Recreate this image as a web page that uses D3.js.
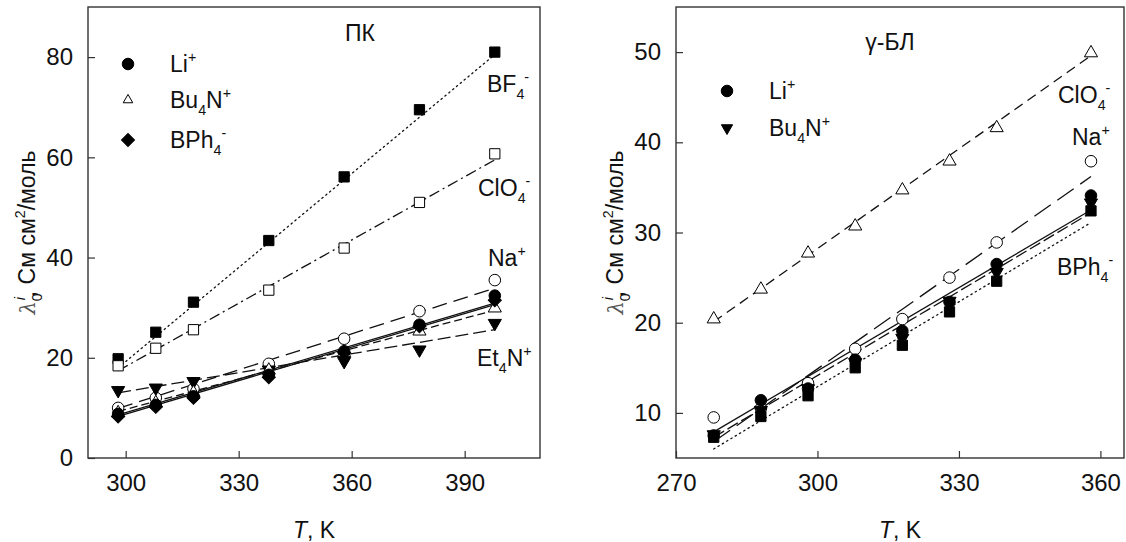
<!DOCTYPE html>
<html>
<head>
<meta charset="utf-8">
<script src="https://cdn.jsdelivr.net/npm/d3@7"></script>
<style>
  body { margin: 0; background: #fff; }
  text { font-family: "Liberation Sans", Arial, sans-serif; fill: #111; }
</style>
</head>
<body>
<div id="graph"></div>
<script>
// temperatures, K
const tPC = [298, 308, 318, 338, 358, 378, 398];
const tBL = [278, 288, 298, 308, 318, 328, 338, 358];

// ПК (propylene carbonate), λ0 in См см2/моль
const pcBF4 = [19.8, 25.1, 31.1, 43.4, 56.1, 69.5, 81.0];
const pcClO4 = [18.4, 21.9, 25.6, 33.5, 41.9, 51.0, 60.7];
const pcNa = [10.0, 12.0, 13.8, 18.8, 23.8, 29.3, 35.5];
const pcLi = [8.8, 10.6, 12.3, 16.6, 21.3, 26.6, 32.4];
const pcBu4N = [9.0, 11.0, 13.0, 17.5, 21.0, 25.3, 29.9];
const pcBPh4 = [8.3, 10.2, 12.0, 16.1, 21.0, 26.3, 31.5];
const pcEt4N = [13.5, 14.0, 15.3, 17.6, 19.3, 21.6, 26.9];

// fitted lines, value at first and last temperature
const pcFitBF4 = [18.0, 80.5];
const pcFitClO4 = [17.4, 59.5];
const pcFitNa = [9.9, 33.9];
const pcFitLi = [8.6, 30.9];
const pcFitBu4N = [9.3, 29.5];
const pcFitBPh4 = [8.3, 30.6];
const pcFitEt4N = [13.0, 25.6];

// γ-БЛ (gamma-butyrolactone)
const blClO4 = [20.4, 23.7, 27.7, 30.7, 34.7, 37.9, 41.6, 49.9];
const blNa = [9.5, 10.5, 13.3, 17.1, 20.4, 25.0, 28.9, 37.9];
const blLi = [7.5, 11.4, 12.7, 15.9, 19.1, 22.3, 26.5, 34.1];
const blBu4N = [7.6, 10.3, 12.7, 15.6, 18.3, 22.4, 25.6, 33.3];
const blBPh4 = [7.3, 9.6, 11.9, 15.0, 17.5, 21.2, 24.6, 32.4];

const blFitClO4 = [20.1, 49.6];
const blFitNa = [6.8, 36.2];
const blFitLi = [7.9, 32.5];
const blFitBu4N = [7.3, 32.2];
const blFitBPh4 = [6.0, 31.1];

const pcXTicks = [300, 330, 360, 390];
const pcYTicks = [0, 20, 40, 60, 80];
const blXTicks = [270, 300, 330, 360];
const blYTicks = [10, 20, 30, 40, 50];

const width = 1126, height = 542;

const svg = d3.select("#graph")
    .append("svg")
    .attr("width", width)
    .attr("height", height);

// marker shapes
const sym = {
    circle: {type: d3.symbolCircle, size: 105, rot: 0},
    square: {type: d3.symbolSquare, size: 105, rot: 0},
    triUp: {type: d3.symbolTriangle, size: 75, rot: 0},
    triDown: {type: d3.symbolTriangle, size: 75, rot: 180},
    diamond: {type: d3.symbolSquare, size: 85, rot: 45}
};

// text with sub/superscripts: parts = [[text, kind]]
function richText(g, x, y, parts, size, anchor) {
    const t = g.append("text")
        .attr("x", x).attr("y", y)
        .attr("font-size", size)
        .attr("text-anchor", anchor || "start");
    let off = 0;
    parts.forEach(function (p) {
        const kind = p[1] || "";
        let target = 0;
        if (kind.indexOf("sub") >= 0) target = size * 0.32;
        if (kind.indexOf("sup") >= 0) target = -size * 0.42;
        const s = t.append("tspan").attr("dy", target - off).text(p[0]);
        if (target !== 0) s.attr("font-size", size * 0.62);
        if (kind.indexOf("it") >= 0) s.attr("font-style", "italic");
        if (p[2]) s.attr("dx", p[2]);
        off = target;
    });
    return t;
}

function panel(opt) {
    const x = d3.scaleLinear().domain(opt.xDomain).range([opt.left, opt.right]);
    const y = d3.scaleLinear().domain(opt.yDomain).range([opt.bottom, opt.top]);
    const g = svg.append("g");

    // x axis
    g.append("g")
        .attr("transform", "translate(0," + opt.bottom + ")")
        .call(d3.axisBottom(x).tickValues(opt.xTicks).tickSize(-7).tickSizeOuter(0).tickPadding(16))
        .call(function (a) {
            a.select(".domain").remove();
            a.selectAll("line").attr("stroke", "#333").attr("stroke-width", 1.2);
            a.selectAll("text").attr("font-size", 24).attr("fill", "#111")
                .attr("font-family", "Liberation Sans, Arial, sans-serif");
        });

    // y axis
    g.append("g")
        .attr("transform", "translate(" + opt.left + ",0)")
        .call(d3.axisLeft(y).tickValues(opt.yTicks).tickSize(-7).tickSizeOuter(0).tickPadding(15))
        .call(function (a) {
            a.select(".domain").remove();
            a.selectAll("line").attr("stroke", "#333").attr("stroke-width", 1.2);
            a.selectAll("text").attr("font-size", 24).attr("fill", "#111")
                .attr("font-family", "Liberation Sans, Arial, sans-serif");
        });

    // frame
    g.append("rect")
        .attr("x", opt.left).attr("y", opt.top)
        .attr("width", opt.right - opt.left)
        .attr("height", opt.bottom - opt.top)
        .attr("fill", "none")
        .attr("stroke", "#333")
        .attr("stroke-width", 1.4);

    // fit lines
    const line = d3.line().x(function (d) { return x(d[0]); }).y(function (d) { return y(d[1]); });
    opt.series.forEach(function (s) {
        const t = opt.t;
        g.append("path")
            .datum([[t[0], s.fit[0]], [t[t.length - 1], s.fit[1]]])
            .attr("d", line)
            .attr("fill", "none")
            .attr("stroke", "#111")
            .attr("stroke-width", 1.3)
            .attr("stroke-linecap", s.dash === "1.4,3.6" ? "round" : "butt")
            .attr("stroke-dasharray", s.dash);
    });

    // markers
    opt.series.forEach(function (s) {
        const m = sym[s.marker];
        g.selectAll(null)
            .data(s.values.map(function (v, i) { return [opt.t[i], v]; }))
            .enter().append("path")
            .attr("d", d3.symbol().type(m.type).size(m.size))
            .attr("transform", function (d) {
                return "translate(" + x(d[0]) + "," + y(d[1]) + ") rotate(" + m.rot + ")";
            })
            .attr("fill", s.open ? "#fff" : "#000")
            .attr("stroke", "#000")
            .attr("stroke-width", 1);
    });

    // legend
    opt.legend.forEach(function (l) {
        const m = sym[l.marker];
        g.append("path")
            .attr("d", d3.symbol().type(m.type).size(l.size || m.size))
            .attr("transform", "translate(" + opt.legX + "," + l.y + ") rotate(" + m.rot + ")")
            .attr("fill", l.open ? "#fff" : "#000")
            .attr("stroke", "#000");
        richText(g, opt.legX + 42, l.y + 8, l.parts, 23);
    });

    // annotations
    opt.notes.forEach(function (n) {
        richText(g, n.x, n.y, n.parts, 23, n.anchor);
    });

    // y axis title
    const yt = richText(g, 0, 0, [
        ["λ", "it"], ["0", "sub"], ["i", "supit", -7], [", См см", ""], ["2", "sup"], ["/моль", ""]
    ], 23, "middle");
    yt.attr("transform", "translate(" + opt.yTitleX + "," + ((opt.top + opt.bottom) / 2) + ") rotate(-90)");
    yt.select("tspan").attr("fill", "#555").attr("font-family", "DejaVu Serif, serif").attr("font-size", 21);

    // x axis title
    richText(g, (opt.left + opt.right) / 2, 538, [["T", "it"], [", K", ""]], 23, "middle");
}

panel({
    xDomain: [290, 410], yDomain: [0, 90],
    left: 88, right: 540, top: 7, bottom: 458,
    xTicks: pcXTicks, yTicks: pcYTicks,
    t: tPC,
    yTitleX: 35,
    series: [
        {values: pcBF4, fit: pcFitBF4, marker: "square", open: false, dash: "1.4,3.6"},
        {values: pcClO4, fit: pcFitClO4, marker: "square", open: true, dash: "11,4,2,4"},
        {values: pcNa, fit: pcFitNa, marker: "circle", open: true, dash: "15,7"},
        {values: pcEt4N, fit: pcFitEt4N, marker: "triDown", open: false, dash: "13,5"},
        {values: pcBu4N, fit: pcFitBu4N, marker: "triUp", open: true, dash: "8,4"},
        {values: pcBPh4, fit: pcFitBPh4, marker: "diamond", open: false, dash: null},
        {values: pcLi, fit: pcFitLi, marker: "circle", open: false, dash: null}
    ],
    legX: 128,
    legend: [
        {marker: "circle", open: false, y: 64, parts: [["Li", ""], ["+", "sup"]]},
        {marker: "triUp", open: true, size: 40, y: 100, parts: [["Bu", ""], ["4", "sub"], ["N", ""], ["+", "sup"]]},
        {marker: "diamond", open: false, y: 140, parts: [["BPh", ""], ["4", "sub"], ["-", "sup"]]}
    ],
    notes: [
        {x: 360, y: 41, anchor: "middle", parts: [["ПК", ""]]},
        {x: 487, y: 92, parts: [["BF", ""], ["4", "sub"], ["-", "sup"]]},
        {x: 478, y: 196, parts: [["ClO", ""], ["4", "sub"], ["-", "sup"]]},
        {x: 488, y: 266, parts: [["Na", ""], ["+", "sup"]]},
        {x: 477, y: 366, parts: [["Et", ""], ["4", "sub"], ["N", ""], ["+", "sup"]]}
    ]
});

panel({
    xDomain: [270, 365], yDomain: [5, 55],
    left: 676, right: 1124, top: 7, bottom: 458,
    xTicks: blXTicks, yTicks: blYTicks,
    t: tBL,
    yTitleX: 623,
    series: [
        {values: blClO4, fit: blFitClO4, marker: "triUp", open: true, dash: "10,6"},
        {values: blNa, fit: blFitNa, marker: "circle", open: true, dash: "20,8"},
        {values: blBPh4, fit: blFitBPh4, marker: "square", open: false, dash: "1.4,3.6"},
        {values: blBu4N, fit: blFitBu4N, marker: "triDown", open: false, dash: "12,4"},
        {values: blLi, fit: blFitLi, marker: "circle", open: false, dash: null}
    ],
    legX: 727,
    legend: [
        {marker: "circle", open: false, y: 91, parts: [["Li", ""], ["+", "sup"]]},
        {marker: "triDown", open: false, size: 55, y: 128, parts: [["Bu", ""], ["4", "sub"], ["N", ""], ["+", "sup"]]}
    ],
    notes: [
        {x: 890, y: 50, anchor: "middle", parts: [["γ-БЛ", ""]]},
        {x: 1058, y: 103, parts: [["ClO", ""], ["4", "sub"], ["-", "sup"]]},
        {x: 1072, y: 145, parts: [["Na", ""], ["+", "sup"]]},
        {x: 1057, y: 275, parts: [["BPh", ""], ["4", "sub"], ["-", "sup"]]}
    ]
});
</script>
</body>
</html>
